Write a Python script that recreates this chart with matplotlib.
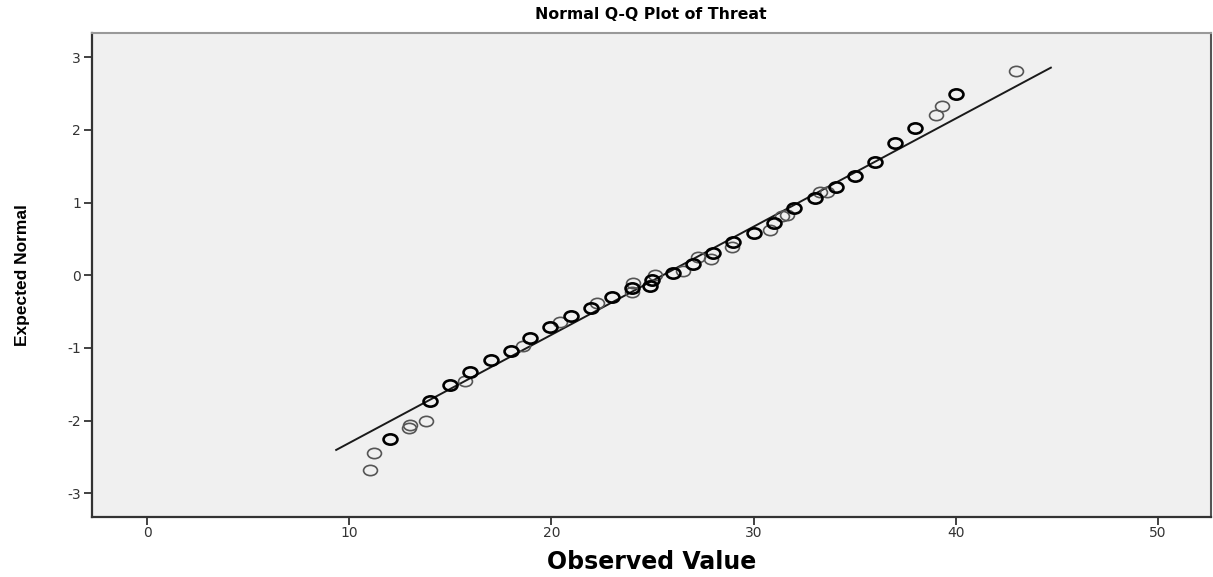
import numpy as np
import matplotlib
matplotlib.use("Agg")
import matplotlib.pyplot as plt
from matplotlib.path import Path

obs = [11.0, 11.2, 12.0, 12.97, 13.02, 13.78, 13.98, 14.96, 15.7, 15.96,
       17.02, 18.0, 18.6, 18.95, 19.95, 20.42, 20.95, 21.95, 22.25, 23.0,
       23.97, 24.0, 24.05, 24.85, 24.95, 25.1, 26.0, 26.5, 27.0, 27.25,
       27.9, 28.0, 28.93, 29.0, 30.0, 30.8, 31.0, 31.4, 31.65, 32.0,
       33.05, 33.3, 33.65, 34.05, 35.0, 36.0, 37.0, 38.0, 39.0, 39.3,
       40.0, 43.0]
expected = [-2.68, -2.45, -2.25, -2.10, -2.06, -2.01, -1.73, -1.51, -1.45, -1.33,
            -1.17, -1.04, -0.97, -0.86, -0.715, -0.64, -0.56, -0.45, -0.38, -0.305,
            -0.225, -0.17, -0.11, -0.15, -0.07, 0.01, 0.035, 0.065, 0.155, 0.25,
            0.23, 0.31, 0.39, 0.46, 0.58, 0.63, 0.715, 0.81, 0.83, 0.92,
            1.07, 1.15, 1.15, 1.22, 1.365, 1.56, 1.82, 2.03, 2.21, 2.33,
            2.5, 2.81]
# 1 = several cases at the same spot (drawn darker), 0 = single case
tied = [0, 0, 1, 0, 0, 0, 1, 1, 0, 1,
        1, 1, 0, 1, 1, 0, 1, 1, 0, 1,
        0, 1, 0, 1, 1, 0, 1, 0, 1, 0,
        0, 1, 0, 1, 1, 0, 1, 0, 0, 1,
        1, 0, 0, 1, 1, 1, 1, 1, 0, 0,
        1, 0]

# reference line: y = (x - mean) / sd
mean = 25.5
sd = 6.72
line_x = [9.35, 44.7]

obs = np.array(obs)
expected = np.array(expected)
tied = np.array(tied, dtype=bool)

plt.rcParams["axes.unicode_minus"] = False

# slightly wide ellipse marker like the SPSS output
circ = Path.unit_circle()
ell = Path(circ.vertices * np.array([1.35, 1.0]), circ.codes)

fig = plt.figure(figsize=(12.13, 5.77), dpi=100)
ax = fig.add_axes([0.0758, 0.1035, 0.9222, 0.8388])
ax.set_facecolor("#f0f0f0")

lx = np.array(line_x)
ax.plot(lx, (lx - mean) / sd, color="#1a1a1a", lw=1.4, zorder=2)

ax.plot(obs[~tied], expected[~tied], ls="none", marker=ell, ms=10,
        mfc="none", mec="#555555", mew=1.2, zorder=3)
ax.plot(obs[tied], expected[tied], ls="none", marker=ell, ms=10,
        mfc="none", mec="#000000", mew=1.9, zorder=4)

ax.set_xlim(-2.73, 52.6)
ax.set_ylim(-3.33, 3.33)
ax.set_xticks([0, 10, 20, 30, 40, 50])
ax.set_yticks([-3, -2, -1, 0, 1, 2, 3])

for s in ["left", "bottom"]:
    ax.spines[s].set_color("#333333")
    ax.spines[s].set_linewidth(1.6)
ax.spines["top"].set_color("#999999")
ax.spines["top"].set_linewidth(1.5)
ax.spines["right"].set_color("#555555")
ax.spines["right"].set_linewidth(1.5)

ax.tick_params(direction="out", length=6, width=1.3, color="#333333",
               labelsize=10, labelcolor="#333333", pad=2)
ax.tick_params(axis="x", pad=0.5)
for lab in ax.get_xticklabels() + ax.get_yticklabels():
    lab.set_family("DejaVu Sans")

ax.set_title("Normal Q-Q Plot of Threat", fontsize=11.3, fontweight="bold",
             family="DejaVu Sans", pad=10)
ax.set_xlabel("Observed Value", fontsize=17, fontweight="bold",
              family="DejaVu Sans", labelpad=7)
ax.set_ylabel("Expected Normal", fontsize=12.5, fontweight="bold",
              family="Liberation Sans", labelpad=27)

fig.savefig("out.png", dpi=100)
